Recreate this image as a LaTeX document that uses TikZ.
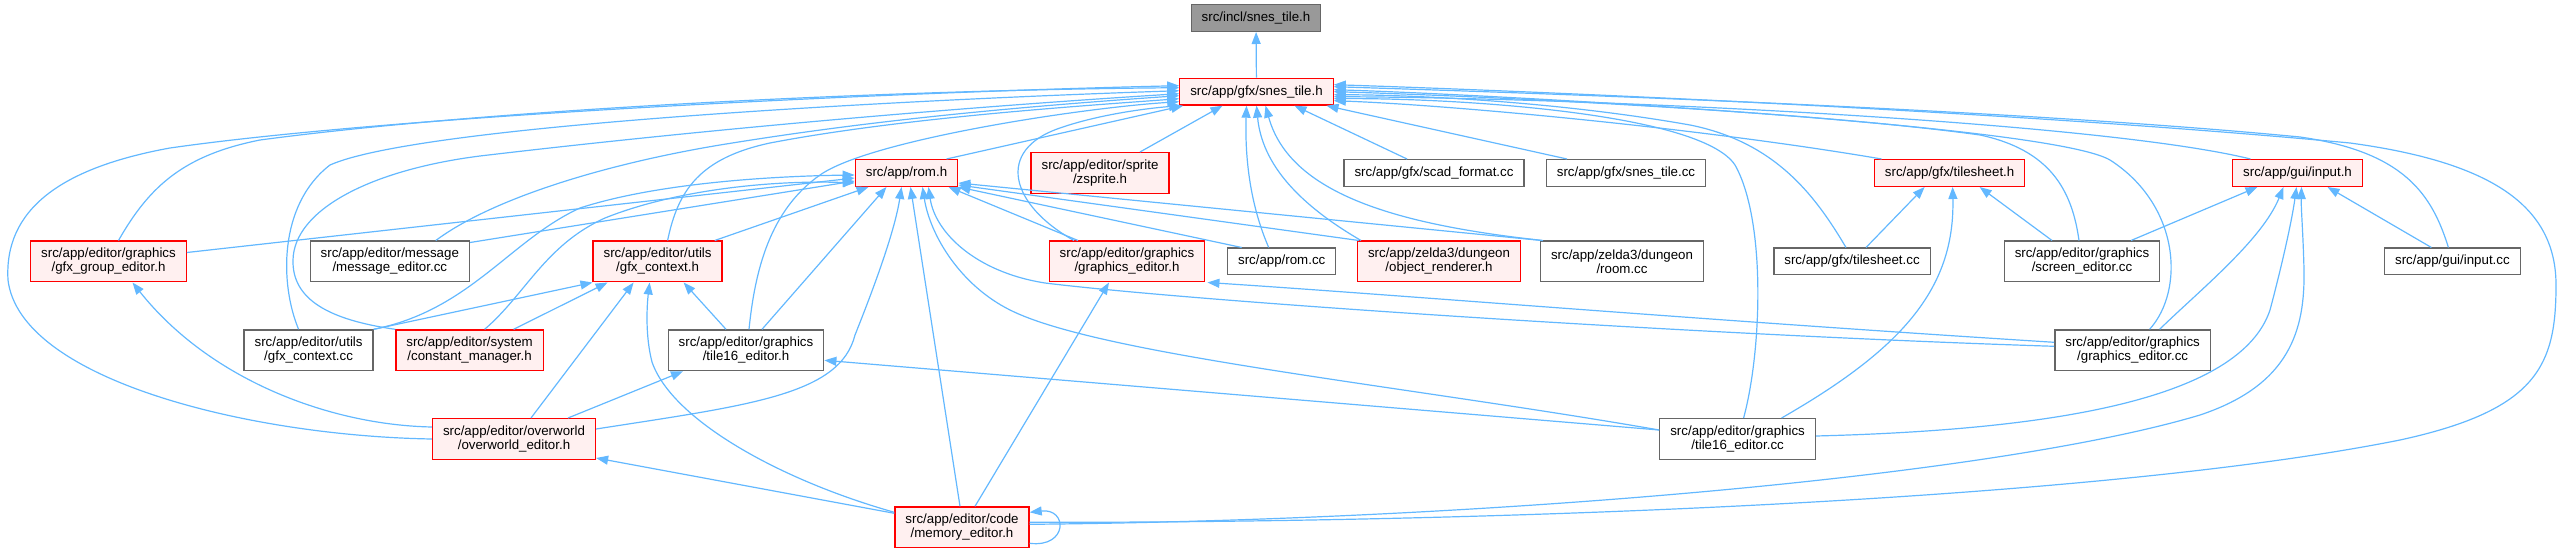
\documentclass[tikz,border=0pt]{standalone}
\usepackage{fontspec}
\setmainfont{Liberation Sans}
\usetikzlibrary{arrows.meta}
\definecolor{edgeblue}{HTML}{63B8FF}
\definecolor{partfill}{HTML}{FFF0F0}
\definecolor{boxgray}{HTML}{666666}
\definecolor{rootfill}{HTML}{999999}
\tikzset{
  filebox/.style={draw=boxgray,fill=white,line width=1.3pt,rectangle,align=center,
    inner xsep=10.5pt,inner ysep=0pt,minimum height=26.7pt,
    font=\fontsize{13.3pt}{14pt}\selectfont},
  twolines/.style={minimum height=40.7pt},
  partbox/.style={filebox,draw=red,fill=partfill},
  rootbox/.style={filebox,fill=rootfill},
  incl/.style={draw=edgeblue,line width=1.2pt,-{Triangle[length=12pt,width=9pt]}}
}
\begin{document}
\begin{tikzpicture}[x=1pt,y=-1pt]
  \useasboundingbox (0,0) rectangle (2562,553);

  % Files
  \node[rootbox] (I) at (1256,18) {src/incl/snes\_tile.h};
  \node[partbox] (S) at (1256.5,91.7) {src/app/gfx/snes\_tile.h};

  \node[partbox] (romh) at (906.5,173) {src/app/rom.h};
  \node[partbox,twolines] (zsprite) at (1100,173) {src/app/editor/sprite\\/zsprite.h};
  \node[filebox] (scad) at (1434,173) {src/app/gfx/scad\_format.cc};
  \node[filebox] (snestilecc) at (1626,173) {src/app/gfx/snes\_tile.cc};
  \node[partbox] (tilesheeth) at (1949.6,173) {src/app/gfx/tilesheet.h};
  \node[partbox] (inputh) at (2297.5,173) {src/app/gui/input.h};

  \node[partbox,twolines] (gfxgroup) at (108.5,261.5) {src/app/editor/graphics\\/gfx\_group\_editor.h};
  \node[filebox,twolines] (msged) at (389.8,261.5) {src/app/editor/message\\/message\_editor.cc};
  \node[partbox,twolines] (gfxctxh) at (657.6,261.5) {src/app/editor/utils\\/gfx\_context.h};
  \node[partbox,twolines] (grapheh) at (1127,261.5) {src/app/editor/graphics\\/graphics\_editor.h};
  \node[filebox] (romcc) at (1281.7,261.5) {src/app/rom.cc};
  \node[partbox,twolines] (objrend) at (1439,261.5) {src/app/zelda3/dungeon\\/object\_renderer.h};
  \node[filebox,twolines] (roomcc) at (1622,261.5) {src/app/zelda3/dungeon\\/room.cc};
  \node[filebox] (tilesheetcc) at (1852,261.5) {src/app/gfx/tilesheet.cc};
  \node[filebox,twolines] (screened) at (2082,261.5) {src/app/editor/graphics\\/screen\_editor.cc};
  \node[filebox] (inputcc) at (2452.4,261.5) {src/app/gui/input.cc};

  \node[filebox,twolines] (gfxctxcc) at (308.6,350.3) {src/app/editor/utils\\/gfx\_context.cc};
  \node[partbox,twolines] (constmgr) at (469.6,350.3) {src/app/editor/system\\/constant\_manager.h};
  \node[filebox,twolines] (tile16h) at (746,350.3) {src/app/editor/graphics\\/tile16\_editor.h};
  \node[filebox,twolines] (graphecc) at (2132.6,350.3) {src/app/editor/graphics\\/graphics\_editor.cc};

  \node[partbox,twolines] (owed) at (514,439) {src/app/editor/overworld\\/overworld\_editor.h};
  \node[filebox,twolines] (tile16cc) at (1737.6,439) {src/app/editor/graphics\\/tile16\_editor.cc};

  \node[partbox,twolines] (memed) at (962,527.3) {src/app/editor/code\\/memory\_editor.h};

  % to incl/snes_tile.h
  \draw[incl] (S) -- (I);

  % to gfx/snes_tile.h, from the left
  \draw[incl] (owed.west) .. controls (250,436) and (20,380) .. (8,280) .. controls (4,210) and (60,168) .. (170,148) .. controls (400,115) and (900,92) .. ([yshift=6pt]S.west);
  \draw[incl] ([xshift=10pt]gfxgroup.north) .. controls (150,185) and (185,155) .. (260,140) .. controls (500,108) and (900,90) .. ([yshift=4pt]S.west);
  \draw[incl] ([xshift=-10pt]gfxctxcc.north) .. controls (280,285) and (278,205) .. (330,165) .. controls (420,125) and (900,100) .. ([yshift=1pt]S.west);
  \draw[incl] (constmgr.north west) .. controls (330,320) and (292,300) .. (293,260) .. controls (294,210) and (370,170) .. (480,156) .. controls (700,130) and (950,108) .. ([yshift=-2pt]S.west);
  \draw[incl] ([xshift=46pt]msged.north) .. controls (490,200) and (600,165) .. (720,145) .. controls (860,122) and (1000,108) .. ([yshift=-4pt]S.west);
  \draw[incl] ([xshift=10pt]gfxctxh.north) .. controls (678,190) and (700,158) .. (770,143) .. controls (900,118) and (1080,106) .. ([yshift=-7pt]S.west);
  \draw[incl] ([xshift=3pt]tile16h.north) .. controls (755,270) and (770,210) .. (820,175) .. controls (870,140) and (1080,108) .. ([yshift=-10pt]S.west);

  % to gfx/snes_tile.h, from below
  \draw[incl] ([xshift=40pt]romh.north) -- ([xshift=4pt]S.south west);
  \draw[incl] ([xshift=-53pt]grapheh.north) .. controls (1010,205) and (995,150) .. (1060,128) .. controls (1100,114) and (1150,108) .. ([xshift=2pt]S.south west);
  \draw[incl] ([xshift=40pt]zsprite.north) -- ([xshift=-34pt]S.south);
  \draw[incl] ([xshift=-13pt]romcc.north) .. controls (1248,200) and (1245,150) .. ([xshift=-10pt]S.south);
  \draw[incl] ([xshift=-78pt]objrend.north) .. controls (1300,205) and (1262,165) .. (S.south);
  \draw[incl] ([xshift=-79pt]roomcc.north) .. controls (1400,225) and (1290,195) .. ([xshift=9pt]S.south);
  \draw[incl] ([xshift=-27pt]scad.north) -- ([xshift=38pt]S.south);
  \draw[incl] ([xshift=-59pt]snestilecc.north) -- ([xshift=70pt]S.south);

  % to gfx/snes_tile.h, from the right
  \draw[incl] ([xshift=-68pt]tilesheeth.north) .. controls (1700,128) and (1450,105) .. ([yshift=-9pt]S.east);
  \draw[incl] ([xshift=-47pt]inputh.north) .. controls (2100,122) and (1600,98) .. ([yshift=-5pt]S.east);
  \draw[incl] ([xshift=-6pt]tilesheetcc.north) .. controls (1815,195) and (1775,142) .. (1690,125) .. controls (1560,102) and (1420,95) .. ([yshift=-3pt]S.east);
  \draw[incl] ([xshift=-3pt]screened.north) .. controls (2072,190) and (2050,150) .. (1980,135) .. controls (1800,110) and (1450,95) .. (S.east);
  \draw[incl] ([xshift=17pt]graphecc.north) .. controls (2185,290) and (2180,205) .. (2110,160) .. controls (2050,125) and (1500,95) .. ([yshift=2pt]S.east);
  \draw[incl] ([xshift=-4pt]inputcc.north) .. controls (2432,195) and (2405,152) .. (2300,137) .. controls (2000,108) and (1500,92) .. ([yshift=5pt]S.east);
  \draw[incl] ([yshift=5pt]memed.east) .. controls (1500,523) and (2100,500) .. (2400,440) .. controls (2538,410) and (2556,365) .. (2556,285) .. controls (2556,205) and (2490,162) .. (2350,143) .. controls (2000,110) and (1500,90) .. ([yshift=7pt]S.east);
  \draw[incl] ([xshift=6pt]tile16cc.north) .. controls (1762,350) and (1766,220) .. (1735,165) .. controls (1700,112) and (1450,98) .. ([yshift=-7pt]S.east);

  % to gfx/tilesheet.h
  \draw[incl] ([xshift=14pt]tilesheetcc.north) -- ([xshift=-25pt]tilesheeth.south);
  \draw[incl] ([xshift=-30pt]screened.north) -- ([xshift=30pt]tilesheeth.south);
  \draw[incl] ([xshift=44pt]tile16cc.north) .. controls (1900,350) and (1955,290) .. ([xshift=3pt]tilesheeth.south);

  % to gui/input.h
  \draw[incl] ([xshift=49pt]screened.north) -- ([xshift=-40pt]inputh.south);
  \draw[incl] ([xshift=27pt]graphecc.north) .. controls (2200,290) and (2262,240) .. ([xshift=-14pt]inputh.south);
  \draw[incl] ([yshift=3pt]tile16cc.east) .. controls (2050,430) and (2240,400) .. (2270,310) .. controls (2282,265) and (2292,220) .. ([xshift=-1pt]inputh.south);
  \draw[incl] ([yshift=3pt]memed.east) .. controls (1500,520) and (2000,475) .. (2200,415) .. controls (2290,385) and (2305,330) .. (2304,270) .. controls (2303,230) and (2301,210) .. ([xshift=4pt]inputh.south);
  \draw[incl] ([xshift=-21pt]inputcc.north) -- ([xshift=30pt]inputh.south);

  % to rom.h
  \draw[incl] ([yshift=9pt]gfxgroup.east) -- ([yshift=-5pt]romh.west);
  \draw[incl] ([yshift=-2pt]msged.north east) -- ([yshift=-8pt]romh.west);
  \draw[incl] (gfxctxcc.north east) .. controls (470,310) and (510,240) .. (580,208) .. controls (660,182) and (780,176) .. ([yshift=-2pt]romh.west);
  \draw[incl] ([xshift=15pt]constmgr.north) .. controls (525,295) and (545,245) .. (605,218) .. controls (680,188) and (780,180) .. ([yshift=-10pt]romh.west);
  \draw[incl] ([xshift=-8pt]gfxctxh.north east) -- ([xshift=-38pt]romh.south);
  \draw[incl] ([xshift=16pt]tile16h.north) -- ([xshift=-20pt]romh.south);
  \draw[incl] ([yshift=10pt]owed.east) .. controls (750,405) and (840,395) .. (855,335) .. controls (875,285) and (895,230) .. ([xshift=-5pt]romh.south);
  \draw[incl] ([xshift=-2pt]memed.north) -- ([xshift=4pt]romh.south);
  \draw[incl] ([xshift=-49pt]grapheh.north) -- ([xshift=42pt]romh.south);
  \draw[incl] ([yshift=4pt]graphecc.west) .. controls (1700,335) and (1200,302) .. (1045,283) .. controls (975,272) and (935,232) .. ([xshift=22pt]romh.south);
  \draw[incl] ([yshift=9pt]tile16cc.west) .. controls (1400,385) and (1100,355) .. (1010,310) .. controls (960,285) and (930,235) .. ([xshift=16pt]romh.south);
  \draw[incl] ([xshift=-40pt]romcc.north) -- (romh.south east);
  \draw[incl] ([xshift=2pt]objrend.north west) -- ([yshift=2pt]romh.south east);
  \draw[incl] ([xshift=2pt]roomcc.north west) -- ([yshift=4pt]romh.south east);

  % to utils/gfx_context.h
  \draw[incl] (gfxctxcc.north east) -- (gfxctxh.south west);
  \draw[incl] ([xshift=44pt]constmgr.north) -- ([xshift=-50pt]gfxctxh.south);
  \draw[incl] ([xshift=17pt]owed.north) -- ([xshift=-24pt]gfxctxh.south);
  \draw[incl] ([yshift=15pt]memed.west) .. controls (780,480) and (672,420) .. (652,362) .. controls (645,335) and (647,305) .. ([xshift=-8pt]gfxctxh.south);
  \draw[incl] ([xshift=-20pt]tile16h.north) -- ([xshift=26pt]gfxctxh.south);

  % to graphics/tile16_editor.h
  \draw[incl] ([xshift=54pt]owed.north) -- ([xshift=-63pt]tile16h.south);
  \draw[incl] ([yshift=9pt]tile16cc.west) -- ([yshift=-10pt]tile16h.east);

  % to graphics/gfx_group_editor.h
  \draw[incl] ([yshift=12pt]owed.west) .. controls (330,425) and (210,380) .. ([xshift=24pt]gfxgroup.south);

  % to overworld/overworld_editor.h
  \draw[incl] ([yshift=14pt]memed.west) -- ([yshift=2pt]owed.south east);

  % to graphics/graphics_editor.h
  \draw[incl] ([xshift=13pt]memed.north) -- ([xshift=-18pt]grapheh.south);
  \draw[incl] ([yshift=8pt]graphecc.west) .. controls (1700,320) and (1400,295) .. ([xshift=2pt]grapheh.south east);

  % memory_editor.h includes itself
  \draw[incl] ([yshift=-16pt]memed.east) .. controls (1068,548) and (1068,508) .. ([yshift=15pt]memed.east);
\end{tikzpicture}
\end{document}
